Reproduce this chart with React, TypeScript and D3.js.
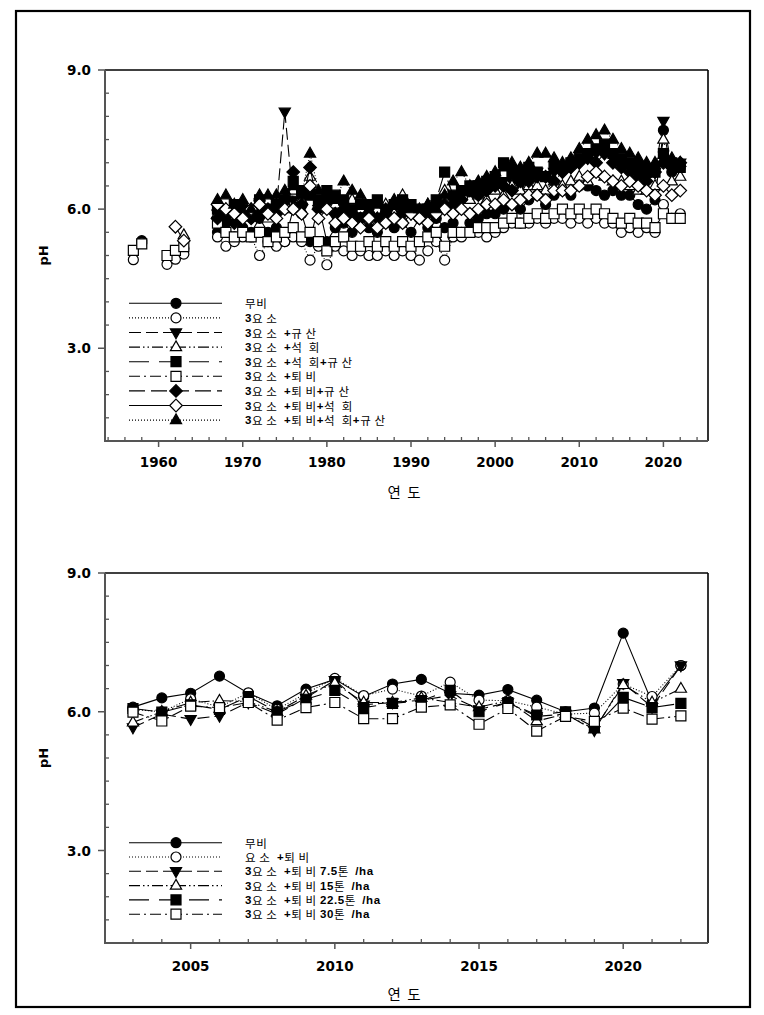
import React from 'react';
import * as d3 from 'd3';

// ---------------- DATA ----------------
const topYears = [1957, 1958, 1959, 1960, 1961, 1962, 1963, 1964, 1965, 1966,
  1967, 1968, 1969, 1970, 1971, 1972, 1973, 1974, 1975, 1976,
  1977, 1978, 1979, 1980, 1981, 1982, 1983, 1984, 1985, 1986,
  1987, 1988, 1989, 1990, 1991, 1992, 1993, 1994, 1995, 1996,
  1997, 1998, 1999, 2000, 2001, 2002, 2003, 2004, 2005, 2006,
  2007, 2008, 2009, 2010, 2011, 2012, 2013, 2014, 2015, 2016,
  2017, 2018, 2019, 2020, 2021, 2022];

const N = null;
// 무비
const t_none = [N, 5.32, N, N, N, N, 5.15, N, N, N,
  5.5, 5.7, 5.4, 5.6, 5.5, 5.8, 5.5, 5.6, 5.3, 6.0,
  5.9, 5.3, 6.1, 5.3, 5.6, 5.7, 5.5, 5.8, 5.6, 5.5,
  5.7, 5.6, 5.7, 5.5, 5.8, 5.6, 5.8, 5.6, 5.7, 5.5,
  5.7, 5.8, 5.9, 5.9, 6.0, 6.1, 6.0, 6.2, 6.3, 6.1,
  6.3, 6.4, 6.3, 6.5, 6.5, 6.4, 6.3, 6.4, 6.3, 6.3,
  6.1, 6.0, 6.2, 7.7, 6.8, 6.9];
// 3요소
const t_npk = [4.91, 5.27, N, N, 4.81, 4.92, 5.03, N, N, N,
  5.4, 5.2, 5.3, 5.4, 5.4, 5.0, 5.3, 5.2, 5.3, 5.4,
  5.3, 4.9, 5.2, 4.8, 5.2, 5.1, 5.0, 5.1, 5.0, 5.0,
  5.1, 5.0, 5.1, 5.0, 4.9, 5.1, 5.3, 4.9, 5.4, 5.4,
  5.5, 5.5, 5.4, 5.5, 5.6, 5.7, 5.7, 5.7, 5.8, 5.7,
  5.8, 5.8, 5.7, 5.8, 5.7, 5.8, 5.7, 5.7, 5.5, 5.6,
  5.5, 5.6, 5.5, 6.1, 5.8, 5.9];
// 3요소+규산
const t_si = [N, N, N, N, N, N, N, N, N, N,
  5.9, 5.8, 6.0, 5.9, 6.0, 6.1, 5.9, 6.0, 8.1, 6.2,
  6.0, 6.4, 6.0, 6.1, 5.9, 6.1, 6.0, 5.9, 6.0, 5.8,
  6.0, 5.9, 6.0, 5.9, 6.0, 5.9, 6.1, 6.0, 6.2, 6.3,
  6.3, 6.4, 6.4, 6.5, 6.6, 6.6, 6.5, 6.7, 6.8, 6.7,
  6.8, 6.8, 6.9, 7.0, 7.1, 7.2, 7.2, 7.1, 7.0, 6.9,
  6.8, 6.7, 6.8, 7.9, 6.9, 7.0];
// 3요소+석회
const t_lime = [N, N, N, N, N, N, 5.44, N, N, N,
  5.9, 6.0, 5.8, 6.0, 5.9, 6.0, 5.8, 6.1, 6.0, 6.4,
  6.2, 6.7, 6.1, 6.0, 6.1, 5.9, 6.2, 6.0, 5.9, 5.8,
  6.1, 5.9, 6.3, 6.0, 5.9, 6.1, 6.0, 6.4, 6.1, 6.2,
  6.2, 6.3, 6.2, 6.4, 6.3, 6.5, 6.4, 6.5, 6.5, 6.4,
  6.6, 6.5, 6.6, 6.7, 6.6, 6.8, 6.7, 6.6, 6.6, 6.5,
  6.4, 6.4, 6.5, 7.5, 6.6, 6.7];
// 3요소+석회+규산
const t_limeSi = [N, N, N, N, N, N, N, N, N, N,
  6.0, 5.8, 6.1, 6.0, 5.9, 6.2, 6.0, 6.1, 6.2, 6.6,
  6.4, 6.3, 6.2, 6.4, 6.3, 6.2, 6.0, 6.1, 6.1, 6.2,
  6.0, 6.1, 6.2, 6.1, 6.0, 6.0, 6.2, 6.8, 6.3, 6.4,
  6.5, 6.5, 6.6, 6.7, 7.0, 6.8, 6.7, 6.9, 6.8, 6.7,
  6.9, 6.9, 7.0, 7.1, 7.2, 7.3, 7.4, 7.2, 7.1, 7.0,
  6.9, 6.8, 6.8, 7.2, 7.0, 6.9];
// 3요소+퇴비
const t_comp = [5.11, 5.25, N, N, 5.0, 5.11, 5.19, N, N, N,
  5.7, 5.5, 5.4, 5.5, 5.4, 5.5, 5.3, 5.4, 5.5, 5.6,
  5.4, 5.5, 5.3, 5.1, 5.3, 5.4, 5.2, 5.2, 5.3, 5.2,
  5.3, 5.2, 5.3, 5.2, 5.3, 5.4, 5.5, 5.2, 5.5, 5.5,
  5.5, 5.6, 5.6, 5.6, 5.7, 5.8, 5.7, 5.8, 5.9, 5.8,
  5.9, 6.0, 5.9, 6.0, 5.9, 6.0, 5.9, 5.8, 5.7, 5.8,
  5.7, 5.7, 5.6, 5.9, 5.8, 5.8];
// 3요소+퇴비+규산
const t_compSi = [N, N, N, N, N, N, N, N, N, N,
  5.8, 5.9, 5.7, 6.0, 5.8, 5.9, 6.0, 5.9, 6.2, 6.8,
  6.1, 6.9, 6.0, 6.2, 5.9, 6.0, 5.9, 5.8, 5.9, 5.8,
  5.9, 5.8, 5.9, 6.0, 5.8, 5.9, 6.0, 6.1, 6.1, 6.2,
  6.4, 6.3, 6.4, 6.5, 6.5, 6.4, 6.6, 6.6, 6.7, 6.7,
  6.6, 6.8, 6.9, 7.0, 7.1, 7.0, 7.2, 7.0, 6.9, 6.8,
  6.7, 6.6, 6.8, 7.0, 6.9, 7.0];
// 3요소+퇴비+석회
const t_compLime = [N, N, N, N, N, 5.62, 5.32, N, N, N,
  6.1, 6.0, 5.9, 5.8, 6.0, 6.1, 5.9, 5.8, 6.0, 6.0,
  5.9, 6.5, 5.8, 6.0, 5.7, 5.8, 5.7, 5.6, 5.8, 5.6,
  5.7, 5.8, 5.7, 5.9, 5.8, 5.7, 5.9, 6.0, 5.9, 6.0,
  5.9, 6.0, 6.1, 6.1, 6.2, 6.1, 6.2, 6.3, 6.3, 6.2,
  6.4, 6.4, 6.4, 6.5, 6.7, 6.8, 6.7, 6.6, 6.5, 6.6,
  6.5, 6.4, 6.3, 6.5, 6.3, 6.4];
// 3요소+퇴비+석회+규산
const t_all = [N, N, N, N, N, N, N, N, N, N,
  6.2, 6.3, 6.1, 6.2, 6.0, 6.3, 6.3, 6.3, 6.4, 6.5,
  6.3, 7.2, 6.4, 6.3, 6.2, 6.6, 6.4, 6.3, 6.0, 6.1,
  6.0, 6.2, 6.1, 6.0, 6.0, 6.1, 6.0, 6.3, 6.6, 6.8,
  6.5, 6.6, 6.7, 6.8, 6.9, 7.0, 6.9, 7.0, 7.2, 7.2,
  7.1, 7.0, 7.1, 7.3, 7.5, 7.6, 7.7, 7.5, 7.3, 7.2,
  7.1, 7.0, 7.0, 7.0, 7.1, 7.0];

const topLabels = ['무비', '3요 소', '3요 소  +규 산', '3요 소  +석  회', '3요 소  +석  회+규 산',
  '3요 소  +퇴 비', '3요 소  +퇴 비+규 산', '3요 소  +퇴 비+석  회', '3요 소  +퇴 비+석  회+규 산'];
const topValues = [t_none, t_npk, t_si, t_lime, t_limeSi, t_comp, t_compSi, t_compLime, t_all];

const botYears = [2003, 2004, 2005, 2006, 2007, 2008, 2009, 2010, 2011, 2012,
  2013, 2014, 2015, 2016, 2017, 2018, 2019, 2020, 2021, 2022];
const b_none = [6.1, 6.3, 6.4, 6.77, 6.4, 6.13, 6.49, 6.7, 6.33, 6.6, 6.7, 6.4, 6.36, 6.48, 6.25, 6.0, 6.08, 7.7, 6.2, 7.0];
const b_ureaComp = [6.05, 6.0, 6.28, 6.1, 6.41, 6.05, 6.4, 6.72, 6.35, 6.49, 6.34, 6.64, 6.25, 6.24, 6.1, 5.95, 5.97, 6.6, 6.33, 7.0];
const b_c75 = [5.66, 5.95, 5.84, 5.91, 6.2, 5.95, 6.3, 6.68, 6.15, 6.2, 6.25, 6.35, 6.05, 6.2, 5.9, 5.95, 5.6, 6.62, 6.1, 7.0];
const b_c15 = [5.77, 6.0, 6.2, 6.24, 6.22, 6.0, 6.35, 6.62, 6.2, 6.2, 6.3, 6.2, 6.1, 6.24, 5.8, 5.95, 5.62, 6.58, 6.2, 6.5];
const b_c225 = [6.07, 5.99, 6.15, 6.05, 6.33, 6.0, 6.27, 6.46, 6.09, 6.18, 6.24, 6.46, 6.0, 6.2, 5.93, 6.0, 5.66, 6.31, 6.09, 6.18];
const b_c30 = [5.99, 5.8, 6.12, 6.09, 6.2, 5.82, 6.09, 6.2, 5.85, 5.85, 6.1, 6.15, 5.73, 6.07, 5.58, 5.9, 5.79, 6.08, 5.84, 5.91];

const botLabels = ['무비', '요 소  +퇴 비', '3요 소  +퇴 비 7.5톤  /ha', '3요 소  +퇴 비 15톤  /ha',
  '3요 소  +퇴 비 22.5톤  /ha', '3요 소  +퇴 비 30톤  /ha'];
const botValues = [b_none, b_ureaComp, b_c75, b_c15, b_c225, b_c30];

const yMajor = [3, 6, 9];
const yTickLabels = ['3.0', '6.0', '9.0'];
const topXMajor = [1960, 1970, 1980, 1990, 2000, 2010, 2020];
const botXMajor = [2005, 2010, 2015, 2020];

// ---------------- STYLES ----------------
type Mk = 'circle' | 'square' | 'tri' | 'tridown' | 'diamond';
const topStyles: { mk: Mk; fill: boolean; dash: string }[] = [
  { mk: 'circle', fill: true, dash: '' },
  { mk: 'circle', fill: false, dash: '1 2' },
  { mk: 'tridown', fill: true, dash: '12 5' },
  { mk: 'tri', fill: false, dash: '11 3 1.5 3 1.5 3' },
  { mk: 'square', fill: true, dash: '20 10' },
  { mk: 'square', fill: false, dash: '11 4 2 4' },
  { mk: 'diamond', fill: true, dash: '16 6' },
  { mk: 'diamond', fill: false, dash: '' },
  { mk: 'tri', fill: true, dash: '1 2' },
];
const botStyles = topStyles.slice(0, 6);

function markerPath(mk: Mk): string {
  switch (mk) {
    case 'circle': return 'M5,0A5,5 0 1,1 -5,0A5,5 0 1,1 5,0Z';
    case 'square': return 'M-5,-5H5V5H-5Z';
    case 'tri': return 'M0,-6.2L5.6,3.6L-5.6,3.6Z';
    case 'tridown': return 'M0,6.2L5.6,-3.6L-5.6,-3.6Z';
    case 'diamond': return 'M0,-6.3L6.3,0L0,6.3L-6.3,0Z';
  }
}

const KFONT = "'Noto Sans CJK KR', 'Noto Sans', sans-serif";
const BFONT = "'DejaVu Sans', 'Liberation Sans', Arial, sans-serif";

function RichLabel({ x, y, text }: { x: number; y: number; text: string }) {
  const runs: { s: string; ascii: boolean }[] = [];
  for (const ch of text) {
    const ascii = ch.charCodeAt(0) < 128;
    const last = runs[runs.length - 1];
    if (last && (last.ascii === ascii || ch === ' ')) last.s += ch;
    else runs.push({ s: ch, ascii });
  }
  return (
    <text x={x} y={y} fontSize={11.5} xmlSpace="preserve" letterSpacing={0.6}
      style={{ whiteSpace: 'pre' }} dominantBaseline="central">
      {runs.map((r, i) => (
        <tspan key={i} fontFamily={r.ascii ? "'Liberation Sans', Arial, sans-serif" : KFONT}
          fontWeight={r.ascii ? 'bold' : 'normal'}>{r.s}</tspan>
      ))}
    </text>
  );
}

interface PanelProps {
  top: number; bottom: number; left: number; right: number;
  xDomain: [number, number];
  years: number[];
  values: (number | null)[][];
  styles: { mk: Mk; fill: boolean; dash: string }[];
  labels: string[];
  xMajor: number[];
  xMinor: number[];
  xLabelDy: number;
  legendY0: number;
  legendStep: number;
  axisTitleY: number;
}

function Panel(p: PanelProps) {
  const x = d3.scaleLinear().domain(p.xDomain).range([p.left, p.right]);
  const y = d3.scaleLinear().domain([1, 9]).range([p.bottom, p.top]);
  const yMinor = d3.range(1, 9.01, 0.5).filter(v => !yMajor.includes(v));
  const axisColor = '#555';
  const line = d3.line<{ yr: number; v: number | null }>()
    .defined(d => d.v != null)
    .x(d => x(d.yr))
    .y(d => y(d.v as number));
  return (
    <g>
      {p.values.map((vals, si) => {
        const st = p.styles[si];
        const pts = p.years.map((yr, i) => ({ yr, v: vals[i] }));
        return (
          <g key={si}>
            <path d={line(pts) || ''} fill="none" stroke="#000" strokeWidth={1.1}
              strokeDasharray={st.dash || undefined} />
            {pts.filter(d => d.v != null).map((d, i) => (
              <path key={i} d={markerPath(st.mk)} transform={`translate(${x(d.yr)},${y(d.v as number)})`}
                fill={st.fill ? '#000' : '#fff'} stroke="#000" strokeWidth={1.2} />
            ))}
          </g>
        );
      })}
      <line x1={p.left} x2={p.right} y1={p.top} y2={p.top} stroke="#000" strokeWidth={1.4} />
      <line x1={p.right} x2={p.right} y1={p.top} y2={p.bottom} stroke="#000" strokeWidth={1.6} />
      <line x1={p.left} x2={p.left} y1={p.top} y2={p.bottom + 1} stroke={axisColor} strokeWidth={2} />
      <line x1={p.left - 1} x2={p.right} y1={p.bottom} y2={p.bottom} stroke={axisColor} strokeWidth={2} />
      {yMajor.map((v, i) => (
        <g key={'ym' + v}>
          <line x1={p.left - 7} x2={p.left} y1={y(v)} y2={y(v)} stroke={axisColor} strokeWidth={1.5} />
          <text x={p.left - 14} y={y(v)} textAnchor="end" dominantBaseline="central"
            fontFamily={BFONT} fontWeight="bold" fontSize={13.5}>{yTickLabels[i]}</text>
        </g>
      ))}
      {yMinor.map(v => (
        <line key={'yn' + v} x1={p.left} x2={p.left + 4} y1={y(v)} y2={y(v)} stroke={axisColor} strokeWidth={1.3} />
      ))}
      {p.xMajor.map(v => (
        <g key={'xm' + v}>
          <line x1={x(v)} x2={x(v)} y1={p.bottom} y2={p.bottom + 6} stroke={axisColor} strokeWidth={1.5} />
          <text x={x(v)} y={p.bottom + p.xLabelDy} textAnchor="middle"
            fontFamily={BFONT} fontWeight="bold" fontSize={13.5}>{v}</text>
        </g>
      ))}
      {p.xMinor.map(v => (
        <line key={'xn' + v} x1={x(v)} x2={x(v)} y1={p.bottom} y2={p.bottom - 4} stroke={axisColor} strokeWidth={1.3} />
      ))}
      <text transform={`translate(43,${(p.top + p.bottom) / 2}) rotate(-90)`} textAnchor="middle"
        dominantBaseline="central" fontFamily={BFONT} fontWeight="bold" fontSize={13}>pH</text>
      <text x={404} y={p.axisTitleY} textAnchor="middle" dominantBaseline="central" xmlSpace="preserve"
        fontFamily={KFONT} fontSize={14.5} style={{ whiteSpace: 'pre' }}>연  도</text>
      {p.labels.map((lab, i) => {
        const st = p.styles[i];
        const ly = p.legendY0 + i * p.legendStep;
        return (
          <g key={'lg' + i}>
            <line x1={129} x2={222} y1={ly} y2={ly} stroke="#000" strokeWidth={1.1}
              strokeDasharray={st.dash || undefined} />
            <path d={markerPath(st.mk)} transform={`translate(176,${ly})`}
              fill={st.fill ? '#000' : '#fff'} stroke="#000" strokeWidth={1.2} />
            <RichLabel x={245} y={ly} text={lab} />
          </g>
        );
      })}
    </g>
  );
}

export default function App() {
  const topMinor = d3.range(1954, 2025, 2).filter(v => v % 10 !== 0);
  const botMinor = d3.range(2003, 2023, 1).filter(v => v % 5 !== 0);
  return (
    <svg width={764} height={1015} style={{ position: 'absolute', left: 0, top: 0, background: '#fff' }}>
      <rect x={16} y={11} width={734} height={996} fill="#fff" stroke="#000" strokeWidth={2.2} />
      <Panel top={70} bottom={441} left={105} right={708} xDomain={[1953.63, 2025.3]}
        years={topYears} values={topValues} styles={topStyles} labels={topLabels}
        xMajor={topXMajor} xMinor={topMinor} xLabelDy={25.5}
        legendY0={303.3} legendStep={14.6} axisTitleY={491} />
      <Panel top={573} bottom={943} left={105} right={708} xDomain={[2002.03, 2022.94]}
        years={botYears} values={botValues} styles={botStyles} labels={botLabels}
        xMajor={botXMajor} xMinor={botMinor} xLabelDy={27.5}
        legendY0={842.7} legendStep={14.3} axisTitleY={993} />
    </svg>
  );
}
